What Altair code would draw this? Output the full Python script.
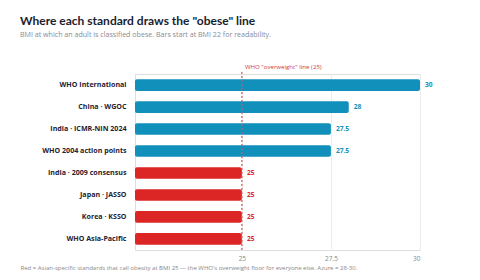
import altair as alt
import pandas as pd

standards = ["WHO International", "China · WGOC", "India · ICMR-NIN 2024",
             "WHO 2004 action points", "India · 2009 consensus", "Japan · JASSO",
             "Korea · KSSO", "WHO Asia-Pacific"]
bmi = [30, 28, 27.5, 27.5, 25, 25, 25, 25]
group = ["Other", "Other", "Other", "Other", "Asian", "Asian", "Asian", "Asian"]
labels = ["30", "28", "27.5", "27.5", "25", "25", "25", "25"]
bar_start = 22
ref_value = [25]
ref_label = ['WHO "overweight" line (25)']
ticks = [25, 27.5, 30]

df = pd.DataFrame({"standard": standards, "bmi": bmi, "group": group,
                   "label": labels, "start": [bar_start] * len(bmi)})
ref = pd.DataFrame({"v": ref_value, "t": ref_label})

FONT = "Open Sans"
BLUE = "#1190bb"
RED = "#dc2626"

color = alt.Color("group:N", scale=alt.Scale(domain=["Other", "Asian"], range=[BLUE, RED]), legend=None)
ycol = alt.Y("standard:N", sort=standards,
             scale=alt.Scale(paddingInner=0.47, paddingOuter=0.24),
             axis=alt.Axis(title=None, domain=False, ticks=False, labelPadding=9,
                           labelFont=FONT, labelFontSize=7.1, labelFontWeight="bold",
                           labelColor="#1f2333"))
xcol = alt.X("bmi:Q", scale=alt.Scale(domain=[22, 30], nice=False, clamp=True),
             axis=alt.Axis(values=ticks, domain=False, ticks=False, grid=True,
                           gridColor="#ececec", labelFont=FONT, labelFontSize=6.5,
                           labelColor="#888888", labelPadding=5,
                           labelExpr="datum.value == 27.5 ? '27.5' : format(datum.value, 'd')",
                           title="Red = Asian-specific standards that call obesity at BMI 25 — the WHO's overweight floor for everyone else. Azure = 28-30.",
                           titleFont=FONT, titleFontSize=6.0, titleFontWeight="normal",
                           titleColor="#888888", titleAnchor="start", titleAlign="left",
                           titleX=-115, titleY=14, titleBaseline="top"))

bars = alt.Chart(df).mark_bar(cornerRadius=2).encode(
    y=ycol, x=xcol, x2="start:Q", color=color)

vals = alt.Chart(df).mark_text(align="left", dx=5, font=FONT, fontSize=6.6,
                               fontWeight="bold").encode(
    y=alt.Y("standard:N", sort=standards), x="bmi:Q", text="label:N",
    color=alt.Color("group:N", scale=alt.Scale(domain=["Other", "Asian"],
                                               range=["#1a7ea6", "#c81e1e"]), legend=None))

rule = alt.Chart(ref).mark_rule(color="#e05252", strokeDash=[2, 2], strokeWidth=1.2).encode(
    x="v:Q", y=alt.value(-2), y2=alt.value(178))

rtext = alt.Chart(ref).mark_text(align="left", dx=3, font=FONT, fontSize=6.1,
                                 color="#d23c3c", baseline="bottom").encode(
    x="v:Q", y=alt.value(-4), text="t:N")

chart = alt.layer(bars, rule, vals, rtext).properties(
    width=285, height=176,
    autosize=alt.AutoSizeParams(type="none"),
    padding={"left": 135, "top": 74, "right": 60, "bottom": 30},
    title=alt.Title("Where each standard draws the \"obese\" line",
                    subtitle="BMI at which an adult is classified obese. Bars start at BMI 22 for readability.",
                    anchor="start", frame="group", dx=-115, offset=25,
                    font="Lato", fontSize=12, fontWeight="bold", color="#1a1d2e",
                    subtitleFont=FONT, subtitleFontSize=7.1, subtitleColor="#8a8a95",
                    subtitlePadding=2.5),
).configure_view(stroke=None).configure(background="white")

chart.save("out.html", embed_options={"renderer": "svg", "actions": False})
